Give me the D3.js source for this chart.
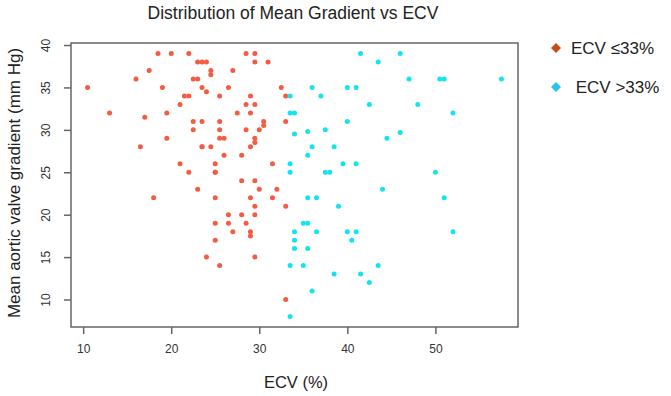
<!DOCTYPE html>
<html><head><meta charset="utf-8">
<script src="https://cdn.jsdelivr.net/npm/d3@7"></script>
<style>body{margin:0;background:#fff;} svg{display:block;font-family:"Liberation Sans",Arial,sans-serif;}</style>
</head><body>
<svg id="chart" width="671" height="396"></svg>
<script>
const title = "Distribution of Mean Gradient vs ECV";
const xLabel = "ECV (%)";
const yLabel = "Mean aortic valve gradient (mm Hg)";
const xTicks = [10, 20, 30, 40, 50];
const yTicks = [10, 15, 20, 25, 30, 35, 40];
const legendLabels = ["ECV \u226433%", " ECV >33%"];

// ECV <= 33%
const lowECV = [10.5,13,16,16.5,17,17.5,18,18.5,19,19.5,19.5,20,21,21,21.5,22,22,22,22.5,22.5,22.5,23,23,23,23.5,23.5,23.5,23.5,23.5,24,24,24,24.5,24.5,24.5,25,25,25,25,25,25,25.5,25.5,25.5,25.5,25.5,26,26,26.5,26.5,26.5,27,27,27.5,28,28,28,28.5,28.5,28.5,28.5,29,29,29,29,29,29,29.5,29.5,29.5,29.5,29.5,29.5,29.5,29.5,29.5,30,30,30.5,30.5,31,31.5,31.5,32,32.5,33,33,33,33];
const lowGrad = [35,32,36,28,31.5,37,22,39,35,32,29,39,33,26,34,39,34,25,36,31,30,23,38,36,28,38,35,31,28,15,38,34.5,28,37,36.5,25,26,25,22,17,19,14,34,31,30,29,27,29,19,35,20,18,37,32,20,27,24,19,39,33,30,22,34,32,28,18,17.5,15,39,38,33,29,28.5,24,21,20,23,30,31,30.5,38,26,22,23,35,34,31,21,10];
// ECV > 33%
const highECV = [33.5,33.5,34,34,35.5,36,35.5,33.5,33.5,35.5,35,35.5,34,34,34,35.5,33.5,35,36,33.5,41.5,46,43.5,47,36,40,41,37,42.5,48,40,37.5,44.5,46,38.5,39.5,41,37.5,38,44,36.5,39,36.5,40,41,40.5,38.5,41.5,43.5,42.5,50.5,51,57.5,52,50,51,52];
const highGrad = [34,32,32,29.5,29.8,28,27,26,25,22,19,19,18,17,16,16,14,14,11,8,39,39,38,36,35,35,35,34,33,33,31,30,29,29.7,28,26,26,25,25,23,22,21,18,18,18,17,13,13,14,12,36,36,36,32,25,22,18];

const svg = d3.select("#chart");
const m = {left: 71, right: 518, top: 43, bottom: 327};
const x = d3.scaleLinear().domain([8.62, 59.38]).range([m.left, m.right]);
const y = d3.scaleLinear().domain([6.76, 40.24]).range([m.bottom, m.top]);

const colLow = "#F35B43", colHigh = "#12E4F0";

svg.append("text").attr("x", 293).attr("y", 19).attr("text-anchor", "middle")
  .attr("font-size", 17.5).attr("fill", "#222").text(title);

// points
const g = svg.append("g");
g.selectAll("circle.low").data(d3.range(lowECV.length)).join("circle")
  .attr("class", "low").attr("cx", i => x(lowECV[i])).attr("cy", i => y(lowGrad[i]))
  .attr("r", 2.5).attr("fill", colLow);
g.selectAll("circle.high").data(d3.range(highECV.length)).join("circle")
  .attr("class", "high").attr("cx", i => x(highECV[i])).attr("cy", i => y(highGrad[i]))
  .attr("r", 2.5).attr("fill", colHigh);

// box
svg.append("rect").attr("x", m.left).attr("y", m.top).attr("width", m.right - m.left)
  .attr("height", m.bottom - m.top).attr("fill", "none").attr("stroke", "#666").attr("stroke-width", 1.5);

// axes
const xAxis = d3.axisBottom(x).tickValues(xTicks).tickSize(7).tickPadding(10);
const xg = svg.append("g").attr("transform", `translate(0,${m.bottom})`).call(xAxis);
xg.select(".domain").remove();
xg.selectAll("line").attr("stroke", "#666").attr("stroke-width", 1.5);
xg.selectAll("text").attr("font-size", 12).attr("fill", "#333").attr("font-family", "Liberation Sans, Arial, sans-serif");

const yAxis = d3.axisLeft(y).tickValues(yTicks).tickSize(7).tickPadding(0);
const yg = svg.append("g").attr("transform", `translate(${m.left},0)`).call(yAxis);
yg.select(".domain").remove();
yg.selectAll("line").attr("stroke", "#666").attr("stroke-width", 1.5);
yg.selectAll("text").attr("font-size", 12).attr("fill", "#333").attr("font-family", "Liberation Sans, Arial, sans-serif")
  .attr("text-anchor", "middle").attr("dy", null).attr("x", null)
  .attr("transform", "translate(-21,0) rotate(-90)");

svg.append("text").attr("x", 296).attr("y", 388).attr("text-anchor", "middle")
  .attr("font-size", 16.5).attr("fill", "#222").text(xLabel);
svg.append("text").attr("transform", `translate(20,${(m.top + m.bottom) / 2 - 2}) rotate(-90)`)
  .attr("text-anchor", "middle").attr("font-size", 17).attr("fill", "#222").text(yLabel);

// legend
const legColors = ["#C4501C", "#2CC3EA"];
const leg = svg.append("g");
legendLabels.forEach((t, i) => {
  const ly = 48 + i * 39;
  leg.append("path").attr("d", d3.symbol(d3.symbolDiamond2, 64)()).attr("transform", `translate(556,${ly})`)
    .attr("fill", legColors[i]);
  leg.append("text").attr("x", 571).attr("y", ly + 6).attr("font-size", 17).attr("fill", "#222")
    .attr("xml:space", "preserve").style("white-space", "pre").text(t);
});
</script>
</body></html>
